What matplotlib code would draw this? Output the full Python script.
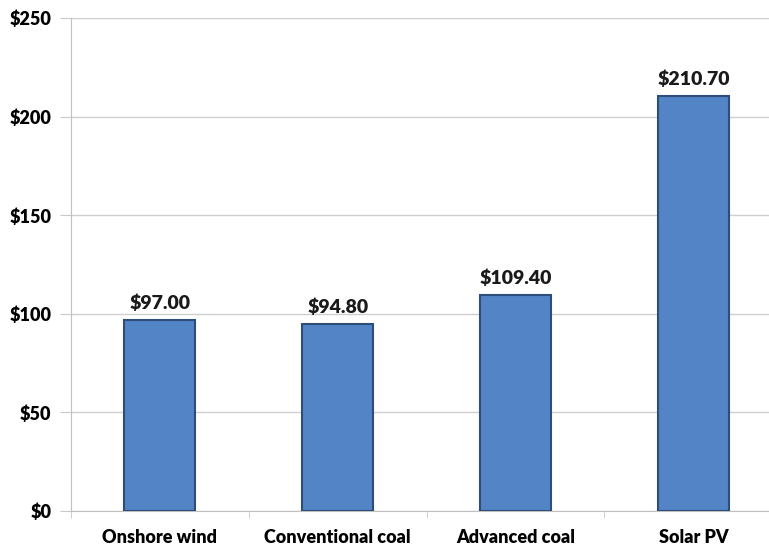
import matplotlib.pyplot as plt
import numpy as np

# datos del grafico
categorias = ['Onshore wind', 'Conventional coal', 'Advanced coal', 'Solar PV']
costos = [97.00, 94.80, 109.40, 210.70]
ticks_y = [0, 50, 100, 150, 200, 250]

plt.rcParams['font.family'] = ['Lato', 'DejaVu Sans']

fig = plt.figure(figsize=(7.69, 5.48), dpi=100)
ax = fig.add_axes([0.0923, 0.0675, 0.925, 0.8995])

x = np.arange(len(categorias))
ax.bar(x, costos, width=0.4, color='#5384C6', edgecolor='#2E4E7A', linewidth=1.5, zorder=3)

for xi, v in zip(x, costos):
    ax.text(xi, v + 4, '${:.2f}'.format(v), ha='center', va='bottom',
            fontsize=14, fontweight='heavy', color='#1a1a1a')

ax.set_xlim(-0.5, 3.5)
ax.set_ylim(0, 250)
ax.set_yticks(ticks_y)
ax.set_yticklabels(['${}'.format(t) for t in ticks_y], fontsize=13, fontweight='heavy')
ax.set_xticks(x)
ax.set_xticklabels(categorias, fontsize=13, fontweight='heavy')
ax.set_xticks(np.arange(-0.5, 4, 1), minor=True)
ax.tick_params(axis='x', which='major', length=0, pad=13)
ax.tick_params(axis='x', which='minor', length=5, color='#c8c8c8', direction='out')
ax.tick_params(axis='y', length=8, color='#c8c8c8', pad=6)

ax.yaxis.grid(True, color='#cfcfcf', linewidth=1, zorder=0)
ax.set_axisbelow(True)
for s in ['top', 'right']:
    ax.spines[s].set_visible(False)
ax.spines['left'].set_color('#c0c0c0')
ax.spines['bottom'].set_color('#c0c0c0')

plt.savefig('out.png', dpi=100)
